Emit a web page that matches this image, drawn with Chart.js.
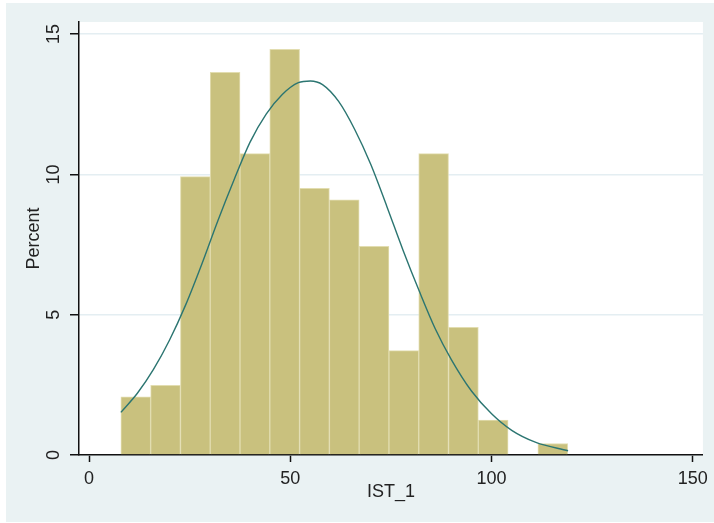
<!DOCTYPE html>
<html>
<head>
<meta charset="utf-8">
<script src="https://cdn.jsdelivr.net/npm/chart.js@4.4.1/dist/chart.umd.min.js"></script>
<style>
  html, body { margin: 0; padding: 0; background: #ffffff; }
  #wrap { width: 714px; height: 523px; }
</style>
</head>
<body>
<div id="wrap"><canvas id="hist" width="714" height="523"></canvas></div>
<script>
// histogram of IST_1 (15 bins, width 7.4), percent per bin
const binCenters = [11.6, 19.0, 26.4, 33.8, 41.2, 48.6, 56.0, 63.4, 70.8, 78.2, 85.6, 93.0, 100.4, 107.8, 115.2];
const percents = [2.07, 2.48, 9.92, 13.64, 10.74, 14.46, 9.50, 9.09, 7.44, 3.72, 10.74, 4.55, 1.24, 0, 0.41];

// normal density overlay
const curveX = [7.9, 12, 16, 20, 24, 28, 32, 36, 40, 44, 48, 52, 55, 58, 62, 66, 70, 74, 78, 82, 86, 90, 95, 100, 105, 111, 119];
const curveY = [1.52, 2.2, 3.05, 4.1, 5.35, 6.8, 8.35, 9.8, 11.15, 12.15, 12.85, 13.27, 13.33, 13.2, 12.6, 11.6, 10.35, 8.85, 7.3, 5.85, 4.5, 3.4, 2.28, 1.47, 0.88, 0.45, 0.15];

const xTicks = [0, 50, 100, 150];
const yTicks = [0, 5, 10, 15];

const FONT = '"Liberation Sans", Arial, sans-serif';

// stata-ish panel backgrounds
const panelBg = {
  id: 'panelBg',
  beforeDraw(chart) {
    const { ctx, chartArea: a } = chart;
    ctx.save();
    ctx.fillStyle = '#ffffff';
    ctx.fillRect(0, 0, chart.width, chart.height);
    ctx.fillStyle = '#eaf2f3';
    ctx.fillRect(6, 3, chart.width - 6, chart.height - 4);
    ctx.fillStyle = '#ffffff';
    ctx.fillRect(a.left, a.top, a.right - a.left, a.bottom - a.top);
    ctx.restore();
  },
};

new Chart(document.getElementById('hist'), {
  data: {
    datasets: [
      {
        type: 'line',
        data: curveX.map((x, i) => ({ x, y: curveY[i] })),
        borderColor: '#2b7571',
        borderWidth: 1.4,
        pointRadius: 0,
        cubicInterpolationMode: 'monotone',
        fill: false,
      },
      {
        type: 'bar',
        data: binCenters.map((x, i) => ({ x, y: percents[i] })),
        backgroundColor: '#c9c17e',
        borderColor: '#e2ddb0',
        borderWidth: 1,
        barPercentage: 1,
        categoryPercentage: 1,
      },
    ],
  },
  options: {
    responsive: false,
    animation: false,
    layout: { padding: { left: 0, right: 8, top: 22, bottom: 0 } },
    plugins: { legend: { display: false }, tooltip: { enabled: false } },
    scales: {
      x: {
        type: 'linear',
        offset: false,
        min: -2.5,
        max: 152.5,
        afterBuildTicks: (s) => { s.ticks = xTicks.map((v) => ({ value: v })); },
        afterFit: (s) => { s.height = 68; },
        grid: { offset: false, drawOnChartArea: false, tickLength: 7, tickColor: '#111', tickWidth: 1.5 },
        border: { display: true, color: '#111', width: 1.5 },
        ticks: { color: '#222', font: { family: FONT, size: 18 }, padding: 6, maxRotation: 0 },
        title: {
          display: true,
          text: 'IST_1',
          color: '#222',
          font: { family: FONT, size: 18 },
          padding: { top: 0, bottom: 20 },
        },
      },
      y: {
        min: 0,
        max: 15.43,
        afterBuildTicks: (s) => { s.ticks = yTicks.map((v) => ({ value: v })); },
        afterFit: (s) => { s.width = 79; },
        grid: { color: '#e4eef2', lineWidth: 1.5, tickLength: 9, tickColor: '#111', tickWidth: 1.5 },
        border: { display: true, color: '#111', width: 1.5 },
        ticks: {
          color: '#222',
          font: { family: FONT, size: 18 },
          minRotation: 90,
          crossAlign: 'center',
          padding: 6,
        },
        title: {
          display: true,
          text: 'Percent',
          color: '#222',
          font: { family: FONT, size: 18 },
          padding: { top: 23, bottom: 0 },
        },
      },
    },
  },
  plugins: [panelBg],
});
</script>
</body>
</html>
